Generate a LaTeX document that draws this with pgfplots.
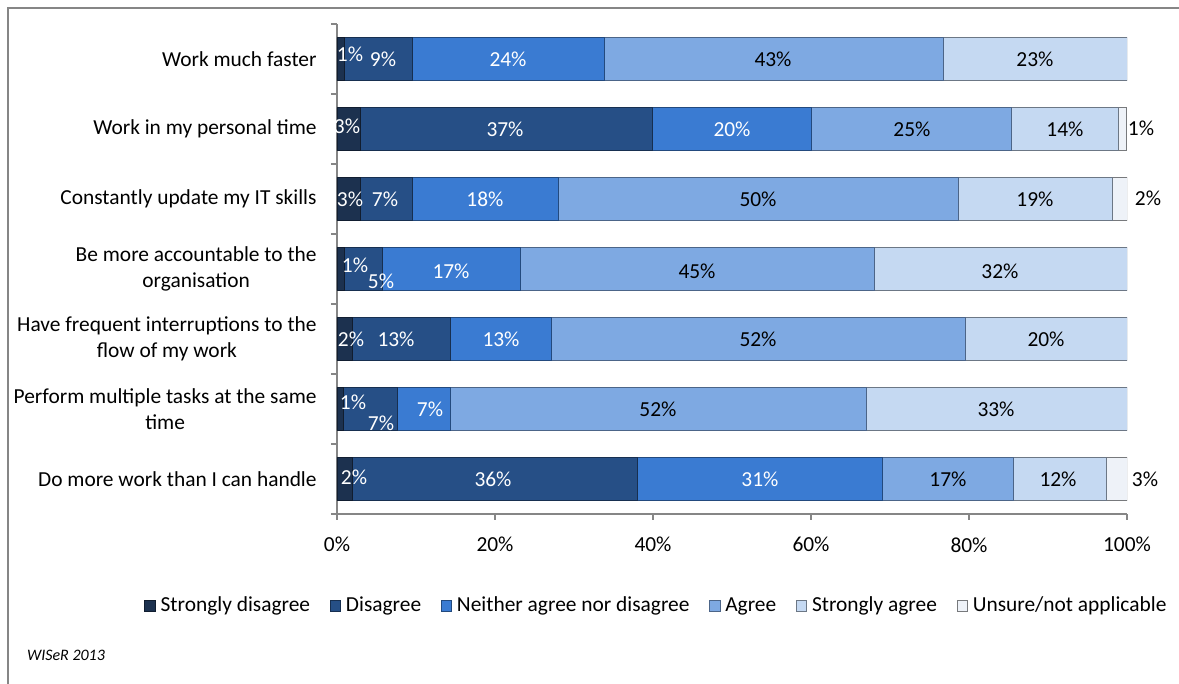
\documentclass[border=0pt]{standalone}
\usepackage{pgfplots}
\pgfplotsset{compat=1.18}
\usepackage{fontspec}
\setmainfont{Carlito}

\definecolor{csd}{HTML}{1C314F}
\definecolor{cd}{HTML}{264F86}
\definecolor{cn}{HTML}{3A7BD2}
\definecolor{ca}{HTML}{7EA9E2}
\definecolor{csa}{HTML}{C5D9F2}
\definecolor{cu}{HTML}{EEF2F8}
\definecolor{axisgray}{HTML}{868686}

\pgfplotstableread{
x y v
1.65 6.07 1
5.82 6.0 9
21.65 6.0 24
1.27 5.04 3
21.27 5.0 37
50.0 5.0 20
1.65 4.0 3
6.08 4.0 7
18.73 4.0 18
2.28 3.06 1
5.57 2.83 5
14.43 2.97 17
1.77 2.0 2
7.47 2.0 13
20.76 2.0 13
2.03 1.1 1
5.57 0.8 7
11.77 1.0 7
2.15 0.03 2
19.75 0.0 36
53.54 0.0 31
}\whitelabels

\pgfplotstableread{
x y v
55.19 6.0 43
88.35 6.0 23
72.78 5.0 25
92.15 5.0 14
101.77 5.01 1
53.29 4.0 50
88.35 4.0 19
102.66 4.01 2
45.57 2.97 45
83.92 2.97 32
53.29 2.0 52
89.75 2.0 20
40.63 1.0 52
83.42 1.0 33
77.34 0.0 17
91.27 0.0 12
102.28 0.0 3
}\blacklabels

\begin{document}
\fontsize{10.7pt}{13pt}\selectfont
\begin{tikzpicture}
\path[use as bounding box] (0,0) rectangle (589.5pt,342pt);
\draw[color=axisgray, line width=0.9pt] (4pt,-2pt) -- (4pt,338pt) -- (595pt,338pt);
\node[font=\fontsize{8pt}{9.6pt}\selectfont\itshape] at (33pt,14.5pt) {WISeR 2013};
\begin{axis}[
  at={(168.5pt,85pt)}, anchor=south west,
  scale only axis, width=395pt, height=245pt,
  xbar stacked, bar width=21.5pt,
  xmin=0, xmax=100, ymin=-0.5, ymax=6.5,
  axis x line*=bottom, axis y line*=left,
  axis line style={draw=axisgray, line width=0.7pt},
  tick align=outside,
  major tick length=3pt, minor tick length=3pt,
  xtick={0,20,40,60,80,100},
  xticklabels={0\%,20\%,40\%,60\%,80\%,100\%},
  x tick style={draw=axisgray, line width=0.7pt},
  xticklabel style={inner sep=0pt, yshift=-8.5pt},
  ytick={0,1,2,3,4,5,6},
  yticklabels={{Do more work than I can handle},
    {Perform multiple tasks at the same\\time},
    {Have frequent interruptions to the\\flow of my work},
    {Be more accountable to the\\organisation},
    {Constantly update my IT skills},
    {Work in my personal time},
    {Work much faster}},
  yticklabel style={align=center, inner sep=0pt, xshift=-7pt},
  minor ytick={-0.5,0.5,1.5,2.5,3.5,4.5,5.5,6.5},
  major y tick style={draw=none},
  minor y tick style={draw=axisgray, line width=0.7pt},
  legend image code/.code={\draw[#1] (0pt,-2.6pt) rectangle (5.2pt,2.6pt);},
  legend style={at={(0.4044,-0.1878)}, anchor=center, draw=none, fill=none,
    legend columns=-1, inner sep=0pt,
    nodes={inner sep=1pt},
    /tikz/every odd column/.append style={column sep=1.5pt},
    /tikz/every even column/.append style={column sep=8.8pt}},
]
\addplot[fill=csd, draw=csd!60!black, line width=0.4pt] coordinates {(1.9,0) (0.8,1) (1.9,2) (0.9,3) (2.9,4) (2.9,5) (0.9,6)};
\addplot[fill=cd, draw=cd!60!black, line width=0.4pt] coordinates {(36.1,0) (6.9,1) (12.5,2) (4.8,3) (6.6,4) (37.0,5) (8.6,6)};
\addplot[fill=cn, draw=cn!60!black, line width=0.4pt] coordinates {(31.0,0) (6.7,1) (12.7,2) (17.5,3) (18.5,4) (20.2,5) (24.4,6)};
\addplot[fill=ca, draw=ca!60!black, line width=0.4pt] coordinates {(16.6,0) (52.6,1) (52.5,2) (44.8,3) (50.6,4) (25.3,5) (42.9,6)};
\addplot[fill=csa, draw=csa!55!black, line width=0.4pt] coordinates {(11.8,0) (33.0,1) (20.4,2) (32.0,3) (19.5,4) (13.5,5) (23.2,6)};
\addplot[fill=cu, draw=cu!50!black, line width=0.4pt] coordinates {(2.6,0) (0,1) (0,2) (0,3) (1.9,4) (1.0,5) (0,6)};
\legend{Strongly disagree, Disagree, Neither agree nor disagree, Agree, Strongly agree, Unsure/not applicable}
\end{axis}
\begin{axis}[
  at={(168.5pt,85pt)}, anchor=south west,
  scale only axis, width=395pt, height=245pt,
  xmin=0, xmax=100, ymin=-0.5, ymax=6.5,
  hide axis, clip=false,
  /pgf/number format/assume math mode=true,
]
\addplot[draw=none, mark=none, nodes near coords={\pgfmathprintnumber{\pgfplotspointmeta}\%},
  point meta=explicit,
  every node near coord/.append style={anchor=center, text=white, inner sep=0pt}]
  table[x=x, y=y, meta=v] {\whitelabels};
\addplot[draw=none, mark=none, nodes near coords={\pgfmathprintnumber{\pgfplotspointmeta}\%},
  point meta=explicit,
  every node near coord/.append style={anchor=center, text=black, inner sep=0pt}]
  table[x=x, y=y, meta=v] {\blacklabels};
\end{axis}
\end{tikzpicture}
\end{document}
